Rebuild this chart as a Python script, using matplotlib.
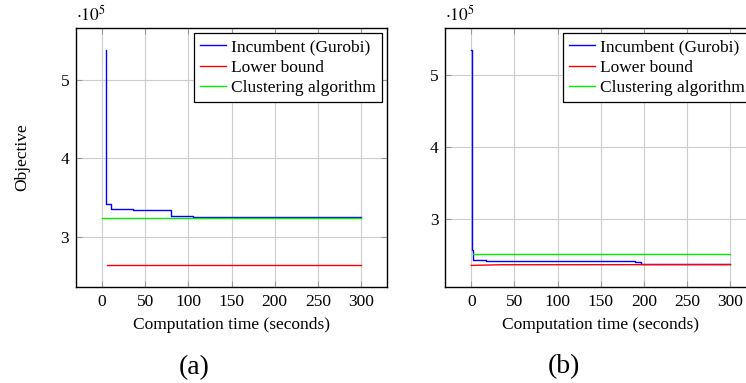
import matplotlib
matplotlib.use("Agg")
import matplotlib.pyplot as plt

plt.rcParams['font.family'] = ['Liberation Serif', 'DejaVu Serif']
plt.rcParams['mathtext.fontset'] = 'stix'

# (a) values in units of 1e5
t_inc_a = [4.6, 5.2, 10.4, 36, 80, 105, 300]
inc_a = [5.38, 3.42, 3.36, 3.34, 3.27, 3.25, 3.25]
t_lb_a = [5.4, 300]
lb_a = [2.64, 2.64]
t_cl_a = [0, 300]
cl_a = [3.24, 3.24]

# (b)
t_inc_b = [0.3, 1.0, 2.5, 17, 190, 197, 300]
inc_b = [5.35, 2.56, 2.428, 2.409, 2.39, 2.372, 2.372]
t_lb_b = [0, 35, 300]
lb_b = [2.347, 2.356, 2.358]
t_cl_b = [1.6, 300]
cl_b = [2.512, 2.512]

labels = ["Incumbent (Gurobi)", "Lower bound", "Clustering algorithm"]
xticks = [0, 50, 100, 150, 200, 250, 300]

fig = plt.figure(figsize=(7.46, 3.83), dpi=100)
ax1 = fig.add_axes([0.1019, 0.2507, 0.4169, 0.676])
ax2 = fig.add_axes([0.5969, 0.2515, 0.4169, 0.6753])

panels = [
    (ax1, t_inc_a, inc_a, t_lb_a, lb_a, t_cl_a, cl_a, (2.36, 5.66), "(a)"),
    (ax2, t_inc_b, inc_b, t_lb_b, lb_b, t_cl_b, cl_b, (2.05, 5.66), "(b)"),
]

for ax, ti, vi, tl, vl, tc, vc, ylim, tag in panels:
    ax.step(ti, vi, where='post', color='#0000ff', lw=1.0, label=labels[0])
    ax.plot(tl, vl, color='#ff0000', lw=1.0, label=labels[1])
    ax.plot(tc, vc, color='#00ee00', lw=1.0, label=labels[2])
    ax.set_xlim(-30, 330)
    ax.set_ylim(*ylim)
    ax.set_xticks(xticks)
    ax.set_yticks([3, 4, 5])
    ax.grid(True, color='#cccccc', lw=0.8)
    ax.set_axisbelow(True)
    ax.tick_params(direction='in', top=True, right=True, length=4,
                   color='#999999', labelsize=12.5, pad=5)
    for s in ax.spines.values():
        s.set_linewidth(1.0)
    ax.set_xlabel("Computation time (seconds)", fontsize=12.5, labelpad=5)
    ax.text(0.0, 1.012, r"$\cdot10^5$", transform=ax.transAxes,
            fontsize=12.5, ha='left', va='bottom')
    leg = ax.legend(loc='upper right', fontsize=12.5, frameon=True, fancybox=False,
                    edgecolor='black', framealpha=1, borderpad=0.35,
                    labelspacing=0.24, handlelength=1.5, handletextpad=0.3,
                    borderaxespad=0.3)
    leg.get_frame().set_linewidth(0.9)
    ax.text(0.38, -0.31, tag, transform=ax.transAxes, fontsize=20,
            ha='center', va='center')

ax1.set_ylabel("Objective", fontsize=12.5, labelpad=22)

fig.savefig("out.png", dpi=100)
